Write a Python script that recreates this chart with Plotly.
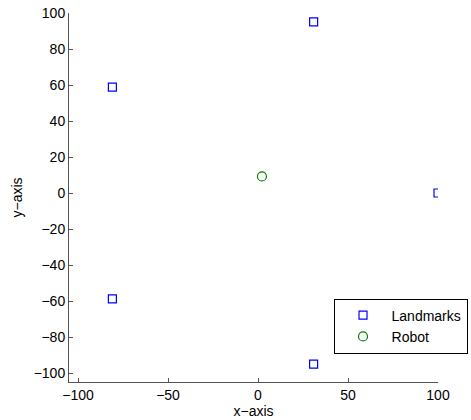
import plotly.graph_objects as go

landmark_x = [100.0, 30.9, -80.9, -80.9, 30.9]
landmark_y = [0.0, 95.1, 58.8, -58.8, -95.1]
robot_x = [2.2]
robot_y = [9.2]
x_ticks = [-100, -50, 0, 50, 100]
y_ticks = [-100, -80, -60, -40, -20, 0, 20, 40, 60, 80, 100]

FONT = "Liberation Sans, Arial, Helvetica, sans-serif"
FS = 14

fig = go.Figure()
fig.add_trace(go.Scatter(
    x=landmark_x, y=landmark_y, mode="markers", name="Landmarks",
    marker=dict(symbol="square-open", size=8, color="#0000ff", line=dict(width=1.2)),
))
fig.add_trace(go.Scatter(
    x=robot_x, y=robot_y, mode="markers", name="Robot",
    marker=dict(symbol="circle-open", size=9, color="#008000", line=dict(width=1.2)),
))

axis_common = dict(
    showline=True, linecolor="#555555", linewidth=1, mirror=False,
    ticks="inside", ticklen=4, tickcolor="#555555", tickwidth=1,
    showgrid=False, zeroline=False,
    tickfont=dict(family=FONT, size=FS, color="#000000"),
)

fig.update_layout(
    width=471, height=420,
    margin=dict(l=69, r=33, t=13, b=38, autoexpand=False),
    paper_bgcolor="white", plot_bgcolor="white",
    font=dict(family=FONT, size=FS, color="#000000"),
    showlegend=True,
    legend=dict(
        x=1.08, y=0.226, xanchor="right", yanchor="top",
        bordercolor="#000000", borderwidth=1, bgcolor="white",
        font=dict(family=FONT, size=FS),
        itemwidth=47, tracegroupgap=0,
    ),
    xaxis=dict(
        range=[-105, 100], tickvals=x_ticks,
        ticktext=[str(v).replace("-", "\u2212") for v in x_ticks],
        title=dict(text="x\u2212axis", standoff=2, font=dict(family=FONT, size=FS)),
        automargin=False,
        **axis_common,
    ),
    yaxis=dict(
        range=[-105, 100], tickvals=y_ticks,
        ticktext=[str(v).replace("-", "\u2212") for v in y_ticks],
        title=dict(text="y\u2212axis", standoff=7, font=dict(family=FONT, size=FS)),
        automargin=False,
        **axis_common,
    ),
)

fig.write_html("out.html")
